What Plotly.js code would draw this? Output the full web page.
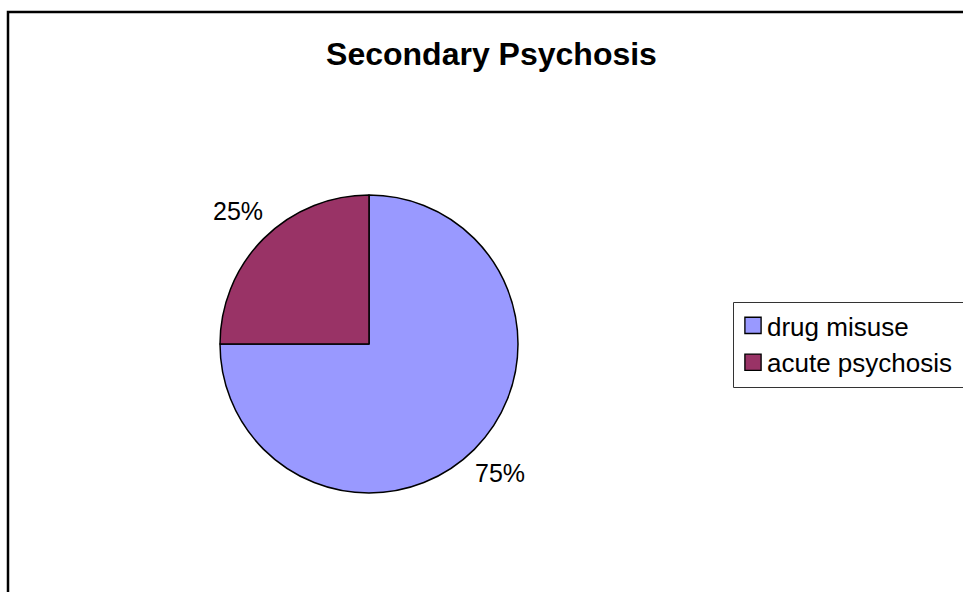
<!DOCTYPE html>
<html>
<head>
<meta charset="utf-8">
<script src="https://cdn.plot.ly/plotly-3.0.1.min.js"></script>
<style>html,body{margin:0;padding:0;background:#fff;}#chart{width:963px;height:592px;}</style>
</head>
<body>
<div id="chart"></div>
<script>
const categories = ["drug misuse", "acute psychosis"];
const values = [75, 25];
const sliceColors = ["#9999FF", "#993366"];
const chartTitle = "Secondary Psychosis";

const W = 963, H = 592;
const cx = 369, cy = 344, R = 149;

const total = values.reduce((a, b) => a + b, 0);
const annotations = [];
let cum = 0;
values.forEach((v, i) => {
  const mid = (cum + v / 2) / total * 2 * Math.PI; // clockwise from 12 o'clock
  cum += v;
  const d = R * 1.24;
  const px = cx + d * Math.sin(mid);
  const py = cy - d * Math.cos(mid) - 2;
  annotations.push({
    xref: "paper", yref: "paper",
    x: px / W, y: 1 - py / H,
    xanchor: "center", yanchor: "middle",
    text: Math.round(v / total * 100) + "%",
    showarrow: false,
    font: {family: "Liberation Sans, Arial, sans-serif", size: 25, color: "#000"}
  });
});

const data = [{
  type: "pie",
  labels: categories,
  values: values,
  sort: false,
  direction: "clockwise",
  rotation: 0,
  textinfo: "none",
  hoverinfo: "label+percent",
  marker: {colors: sliceColors, line: {color: "#000", width: 1.5}},
  domain: {x: [(cx - R) / W, (cx + R) / W], y: [1 - (cy + R) / H, 1 - (cy - R) / H]}
}];

const layout = {
  width: W, height: H,
  margin: {l: 0, r: 0, t: 0, b: 0, autoexpand: false},
  paper_bgcolor: "#fff",
  font: {family: "Liberation Sans, Arial, sans-serif", color: "#000"},
  title: {
    text: chartTitle,
    x: 491.5 / W, xanchor: "center", xref: "paper",
    y: 1 - 54 / H, yanchor: "middle", yref: "paper",
    font: {family: "Liberation Sans, Arial, sans-serif", size: 32, weight: 700, color: "#000"}
  },
  showlegend: true,
  legend: {
    x: 733 / W, y: 1 - 302 / H, xanchor: "left", yanchor: "top",
    borderwidth: 0, bgcolor: "rgba(0,0,0,0)",
    font: {family: "Liberation Sans, Arial, sans-serif", size: 26, color: "#000"}
  },
  annotations: annotations,
  shapes: [{
    type: "rect", xref: "paper", yref: "paper",
    x0: 8 / W, x1: 1.05, y0: -0.05, y1: 1 - 12 / H,
    line: {color: "#000", width: 2.5}, fillcolor: "rgba(0,0,0,0)", layer: "below"
  }, {
    type: "rect", xref: "paper", yref: "paper",
    x0: 733.5 / W, x1: 1.05, y0: 1 - 387.5 / H, y1: 1 - 302.5 / H,
    line: {color: "#333", width: 1}, fillcolor: "rgba(0,0,0,0)", layer: "below"
  }]
};

Plotly.newPlot("chart", data, layout, {staticPlot: true}).then(gd => {
  gd.querySelectorAll(".legend .legendpoints path").forEach(p => {
    const t = p.getAttribute("transform") || "";
    p.setAttribute("transform", t + " scale(1.35)");
    p.style.strokeWidth = "1px";
  });
  gd.querySelectorAll(".legend .legendtext").forEach(t => {
    const x = parseFloat(t.getAttribute("x") || "0");
    t.setAttribute("x", x - 6);
  });
});
</script>
</body>
</html>
